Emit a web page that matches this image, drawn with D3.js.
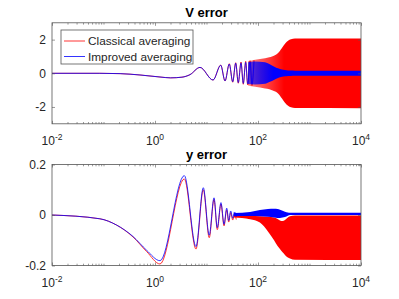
<!DOCTYPE html>
<html>
<head>
<meta charset="utf-8">
<script src="https://cdn.jsdelivr.net/npm/d3@7"></script>
<style>
  html, body { margin: 0; padding: 0; background: #fff; }
  svg { display: block; font-family: "Liberation Sans", Arial, sans-serif; }
</style>
</head>
<body>
<div id="chart"></div>
<script>
// x axis (shared)
const xDomain = [1e-2, 1e4];
const xMajor = [1e-2, 1e0, 1e2, 1e4];
const xTickBase = ["10", "10", "10", "10"];
const xTickExp = ["-2", "0", "2", "4"];

// V error - resolved oscillations (extrema)
const vX = [0.01, 0.085, 0.21, 0.51, 1.25, 2.0, 3.34, 4.78, 7.48, 13.4, 18.9, 22.9, 27.7, 32.3, 36.9, 41.4, 46.8, 51.8, 57.7, 63.1, 70.0, 76.4, 83.6];
const vImproved = [0, 0, -0.02, -0.1, -0.22, -0.27, -0.23, -0.08, 0.35, -0.4, 0.48, -0.45, 0.55, -0.5, 0.6, -0.55, 0.62, -0.6, 0.65, -0.62, 0.68, -0.65, 0.7];
const vClassical = [0, 0, -0.02, -0.1, -0.22, -0.27, -0.23, -0.08, 0.35, -0.4, 0.49, -0.46, 0.57, -0.53, 0.63, -0.59, 0.67, -0.65, 0.71, -0.69, 0.75, -0.73, 0.78];
// V error - dense part, envelopes
const vBandX = [64, 87.5, 137, 166, 187, 222, 245, 292, 334, 383, 437, 523, 10000];
const vClassicalHi = [0.72, 0.8, 0.9, 0.95, 1.0, 1.1, 1.2, 1.5, 1.75, 1.93, 2.02, 2.06, 2.07];
const vClassicalLo = [-0.72, -0.8, -0.9, -0.95, -1.0, -1.1, -1.2, -1.5, -1.75, -1.93, -2.02, -2.06, -2.07];
const vImprovedHi = [0.66, 0.7, 0.65, 0.55, 0.47, 0.35, 0.3, 0.22, 0.19, 0.17, 0.16, 0.155, 0.15];
const vImprovedLo = [-0.64, -0.66, -0.62, -0.52, -0.45, -0.34, -0.28, -0.21, -0.18, -0.16, -0.155, -0.15, -0.15];

// y error - resolved oscillations
const yX = [0.01, 0.085, 0.18, 0.374, 0.69, 1.25, 3.71, 6.25, 8.67, 11.3, 14.0, 16.2, 19.1, 21.9, 24.7, 27.0, 29.5, 32.3, 35.0, 37.8];
const yImproved = [0, -0.015, -0.04, -0.085, -0.14, -0.181, 0.156, -0.125, 0.108, -0.08, 0.068, -0.05, 0.049, -0.037, 0.027, -0.022, 0.016, -0.013, 0.012, -0.008];
const yClassical = [0, -0.015, -0.04, -0.087, -0.145, -0.194, 0.143, -0.135, 0.1, -0.09, 0.062, -0.058, 0.043, -0.043, 0.02, -0.028, 0.01, -0.02, 0.005, -0.018];
// y error - dense part, envelopes
const yBandX = [34.2, 70, 109, 156, 205, 240, 267, 300, 334, 380, 418, 523, 10000];
const yImprovedHi = [0.008, 0.012, 0.02, 0.024, 0.025, 0.024, 0.021, 0.017, 0.013, 0.01, 0.009, 0.009, 0.009];
const yImprovedLo = [-0.004, -0.004, -0.005, -0.007, -0.01, -0.012, -0.012, -0.01, -0.008, -0.003, 0.0, 0.0, 0.0];
const yClassicalHi = [-0.004, -0.004, -0.005, -0.007, -0.01, -0.016, -0.022, -0.024, -0.02, -0.01, -0.005, -0.002, -0.002];
const yClassicalLo = [-0.01, -0.017, -0.03, -0.065, -0.1, -0.123, -0.135, -0.148, -0.158, -0.168, -0.172, -0.177, -0.178];

const seriesNames = ["Classical averaging", "Improved averaging"];
const seriesColors = ["#ff0000", "#0000ff"];

// minor log ticks: 2..9 in every decade plus the odd decades
const xMinor = [];
for (let e = -2; e < 4; e++) {
    for (let k = 1; k <= 9; k++) {
        const v = k * Math.pow(10, e);
        if (k === 1 && e % 2 === 0) continue;
        xMinor.push(v);
    }
}

const width = 399, height = 299;
const plotLeft = 52, plotRight = 361;
const textColor = "#262626";
const axisColor = "#555";

const svg = d3.select("#chart").append("svg")
    .attr("width", width)
    .attr("height", height);
svg.append("rect").attr("width", width).attr("height", height).attr("fill", "#fff");
const defs = svg.append("defs");

const panels = [
    {
        title: "V error", top: 22.8, bottom: 123.8, titleY: 16.5,
        yDomain: [-3, 3], yTicks: [-2, 0, 2], yLabels: ["-2", "0", "2"],
        lineX: vX, classical: vClassical, improved: vImproved,
        bandX: vBandX, cHi: vClassicalHi, cLo: vClassicalLo, iHi: vImprovedHi, iLo: vImprovedLo,
        redFade: [45, 320, 0.35], blueFade: [60, 200, 0.6]
    },
    {
        title: "y error", top: 164.5, bottom: 265.5, titleY: 158.5,
        yDomain: [-0.2, 0.2], yTicks: [-0.2, 0, 0.2], yLabels: ["-0.2", "0", "0.2"],
        lineX: yX, classical: yClassical, improved: yImproved,
        bandX: yBandX, cHi: yClassicalHi, cLo: yClassicalLo, iHi: yImprovedHi, iLo: yImprovedLo,
        redFade: null, blueFade: null
    }
];

panels.forEach(function(p, idx) {
    const x = d3.scaleLog().domain(xDomain).range([plotLeft, plotRight]);
    const y = d3.scaleLinear().domain(p.yDomain).range([p.bottom, p.top]);

    const clipId = "clip" + idx;
    defs.append("clipPath").attr("id", clipId)
        .append("rect")
        .attr("x", plotLeft).attr("y", p.top)
        .attr("width", plotRight - plotLeft).attr("height", p.bottom - p.top);

    // fades for the half-resolved part of the bands
    function fadeFill(name, color, fade) {
        if (!fade) return color;
        const id = name + idx;
        const grad = defs.append("linearGradient").attr("id", id)
            .attr("gradientUnits", "userSpaceOnUse")
            .attr("x1", x(fade[0])).attr("x2", x(fade[1]))
            .attr("y1", 0).attr("y2", 0);
        grad.append("stop").attr("offset", 0).attr("stop-color", color).attr("stop-opacity", fade[2]);
        grad.append("stop").attr("offset", 1).attr("stop-color", color).attr("stop-opacity", 1);
        return `url(#${id})`;
    }

    const plot = svg.append("g").attr("clip-path", `url(#${clipId})`);

    const line = d3.line()
        .x(d => x(d[0]))
        .y(d => y(d[1]))
        .curve(d3.curveMonotoneX);
    const area = d3.area()
        .x(d => x(d.x))
        .y0(d => y(d.lo))
        .y1(d => y(d.hi))
        .curve(d3.curveMonotoneX);

    const redBand = p.bandX.map((v, i) => ({ x: v, hi: p.cHi[i], lo: p.cLo[i] }));
    const blueBand = p.bandX.map((v, i) => ({ x: v, hi: p.iHi[i], lo: p.iLo[i] }));

    plot.append("path")
        .attr("d", area(redBand))
        .attr("fill", fadeFill("redfade", seriesColors[0], p.redFade));
    plot.append("path")
        .attr("d", line(p.lineX.map((v, i) => [v, p.classical[i]])))
        .attr("fill", "none")
        .attr("stroke", seriesColors[0])
        .attr("stroke-width", 0.8);
    plot.append("path")
        .attr("d", area(blueBand))
        .attr("fill", fadeFill("bluefade", seriesColors[1], p.blueFade));
    plot.append("path")
        .attr("d", line(p.lineX.map((v, i) => [v, p.improved[i]])))
        .attr("fill", "none")
        .attr("stroke", seriesColors[1])
        .attr("stroke-width", 0.8);

    // ticks (MATLAB style, inward, mirrored)
    function styleAxis(sel) {
        sel.select(".domain").remove();
        sel.selectAll("line").attr("stroke", axisColor).attr("stroke-width", 0.6);
        sel.selectAll("text").remove();
    }
    svg.append("g").attr("transform", `translate(0,${p.bottom})`)
        .call(d3.axisBottom(x).tickValues(xMinor).tickSize(-1.8)).call(styleAxis);
    svg.append("g").attr("transform", `translate(0,${p.top})`)
        .call(d3.axisTop(x).tickValues(xMinor).tickSize(-1.8)).call(styleAxis);
    svg.append("g").attr("transform", `translate(0,${p.bottom})`)
        .call(d3.axisBottom(x).tickValues(xMajor).tickSize(-3)).call(styleAxis);
    svg.append("g").attr("transform", `translate(0,${p.top})`)
        .call(d3.axisTop(x).tickValues(xMajor).tickSize(-3)).call(styleAxis);
    svg.append("g").attr("transform", `translate(${plotLeft},0)`)
        .call(d3.axisLeft(y).tickValues(p.yTicks).tickSize(-3)).call(styleAxis);
    svg.append("g").attr("transform", `translate(${plotRight},0)`)
        .call(d3.axisRight(y).tickValues(p.yTicks).tickSize(-3)).call(styleAxis);

    // box
    svg.append("rect")
        .attr("x", plotLeft).attr("y", p.top)
        .attr("width", plotRight - plotLeft).attr("height", p.bottom - p.top)
        .attr("fill", "none")
        .attr("stroke", axisColor)
        .attr("stroke-width", 0.8);

    // x tick labels with superscripts
    svg.append("g").selectAll(".xlab")
        .data(xMajor)
        .enter()
        .append("text")
        .attr("class", "xlab")
        .attr("x", d => x(d))
        .attr("y", p.bottom + 21.5)
        .attr("text-anchor", "middle")
        .attr("font-size", "12px")
        .attr("fill", textColor)
        .each(function(d, i) {
            const t = d3.select(this);
            t.append("tspan").text(xTickBase[i]);
            t.append("tspan").attr("dy", -5.5).attr("font-size", "8.5px").text(xTickExp[i]);
        });

    // y tick labels
    svg.append("g").selectAll(".ylab")
        .data(p.yTicks)
        .enter()
        .append("text")
        .attr("x", plotLeft - 6)
        .attr("y", d => y(d))
        .attr("dy", "0.36em")
        .attr("text-anchor", "end")
        .attr("font-size", "12px")
        .attr("fill", textColor)
        .text((d, i) => p.yLabels[i]);

    // title
    svg.append("text")
        .attr("x", (plotLeft + plotRight) / 2)
        .attr("y", p.titleY)
        .attr("text-anchor", "middle")
        .attr("font-size", "13px")
        .attr("font-weight", "bold")
        .attr("fill", "#000")
        .text(p.title);
});

// legend (top panel)
const legend = svg.append("g").attr("transform", "translate(61,30)");
legend.append("rect")
    .attr("width", 132).attr("height", 34)
    .attr("fill", "#fff")
    .attr("stroke", axisColor)
    .attr("stroke-width", 0.8);
const legendItems = legend.selectAll(".legend-item")
    .data(seriesNames)
    .enter()
    .append("g")
    .attr("class", "legend-item")
    .attr("transform", (d, i) => `translate(0,${11 + i * 15.5})`);
legendItems.append("line")
    .attr("x1", 3).attr("x2", 24)
    .attr("y1", 0).attr("y2", 0)
    .attr("stroke", (d, i) => seriesColors[i])
    .attr("stroke-width", 0.8);
legendItems.append("text")
    .attr("x", 27)
    .attr("y", 0)
    .attr("dy", "0.36em")
    .attr("font-size", "11.8px")
    .attr("fill", textColor)
    .text(d => d);
</script>
</body>
</html>
